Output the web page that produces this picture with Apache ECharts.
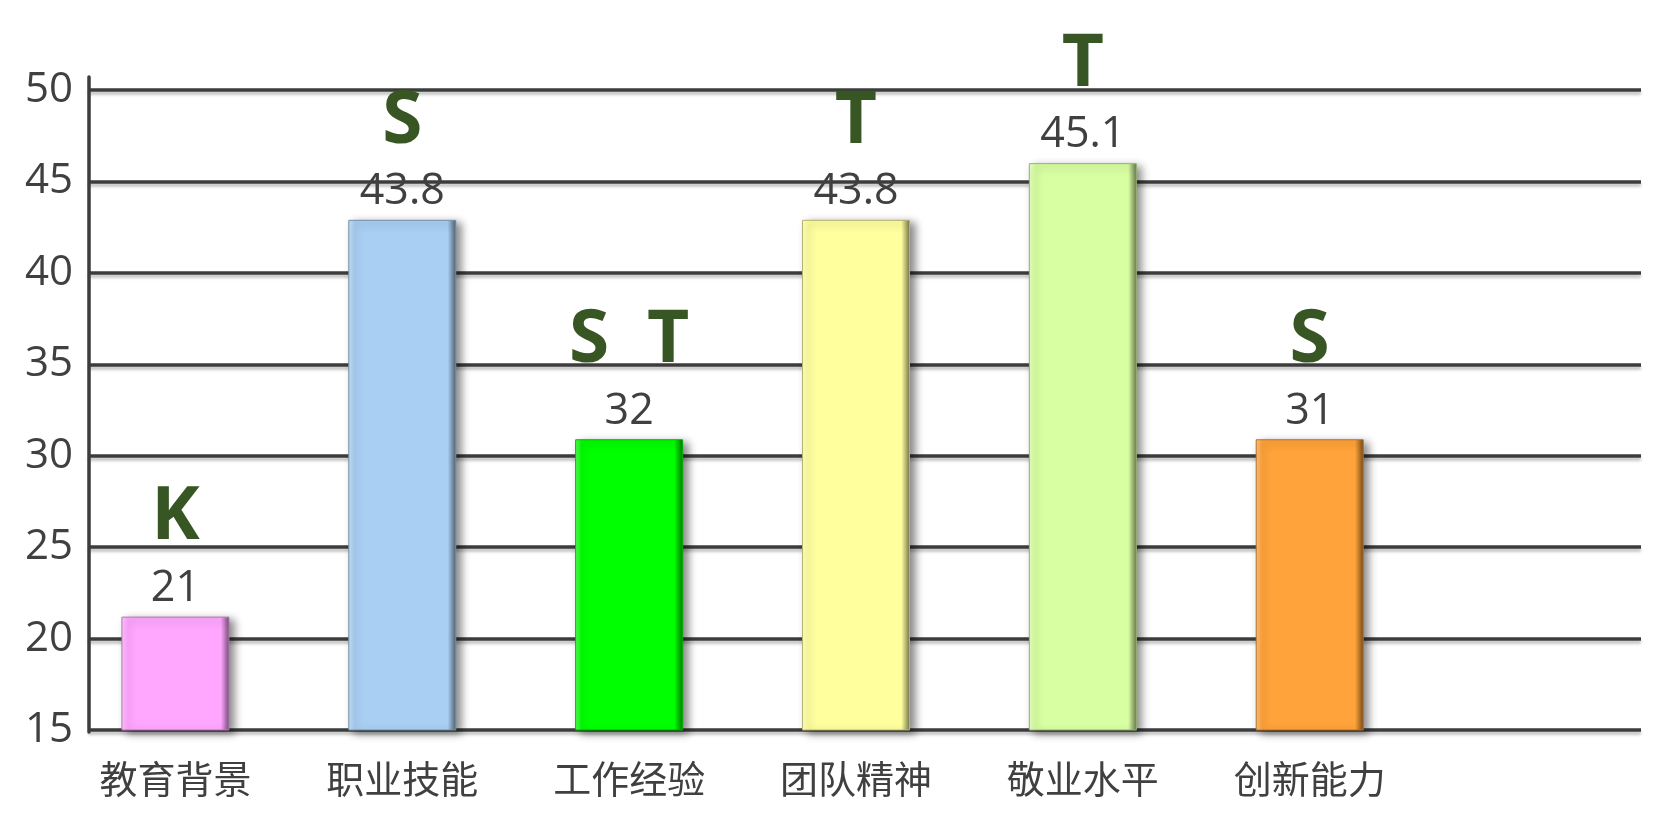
<!DOCTYPE html>
<html><head><meta charset="utf-8">
<script src="https://cdn.jsdelivr.net/npm/echarts@6/dist/echarts.min.js"></script>
<style>html,body{margin:0;padding:0;background:#fff}#c{width:1657px;height:826px}</style>
</head><body><div id="c"></div>
<script>
// ---- data ----
const categories = ['教育背景', '职业技能', '工作经验', '团队精神', '敬业水平', '创新能力'];
const barValues = [21.2, 42.9, 30.9, 42.9, 46.0, 30.9];      // bar heights as drawn
const valueLabels = ['21', '43.8', '32', '43.8', '45.1', '31']; // printed labels
const letterLabels = ['K', 'S', 'S  T', 'T', 'T', 'S'];
const yMin = 15, yMax = 50, yStep = 5;

// ---- style ----
const barColors = ['#FFA6FF', '#A9CFF3', '#00FF00', '#FFFF9E', '#D8FFA2', '#FFA33A'];
const FONT = "'Open Sans', 'Noto Sans CJK SC', sans-serif";
const TXT = '#404040';
const LETTER = '#375623';

function hexToRgb(h) { h = h.replace('#', ''); return [0, 2, 4].map(i => parseInt(h.substr(i, 2), 16)); }
function mix(h, t, a) { const c = hexToRgb(h), d = hexToRgb(t); return 'rgb(' + c.map((v, i) => Math.round(v + (d[i] - v) * a)).join(',') + ')'; }

const chart = echarts.init(document.getElementById('c'), null, { renderer: 'canvas' });

const catAxisData = categories.concat(['']);

const option = {
  backgroundColor: '#ffffff',
  animation: false,
  grid: [
    { left: 88, right: 16, top: 90, bottom: 96 },   // gridlines + y labels
    { left: 62, right: 7, top: 90, bottom: 96 },    // bars + categories
    { left: 89, right: 16, top: 77, bottom: 94 }    // y axis line
  ],
  xAxis: [
    { gridIndex: 0, type: 'category', data: catAxisData, show: false },
    {
      gridIndex: 1, type: 'category', data: catAxisData,
      axisLine: { show: false }, axisTick: { show: false },
      axisLabel: { color: TXT, fontSize: 38, fontFamily: FONT, margin: 33, interval: 0 }
    },
    { gridIndex: 2, type: 'category', data: catAxisData, show: false }
  ],
  yAxis: [
    {
      gridIndex: 0, type: 'value', min: yMin, max: yMax, interval: yStep,
      axisLine: { show: false }, axisTick: { show: false },
      axisLabel: { color: TXT, fontSize: 42, fontFamily: FONT, margin: 15 },
      splitLine: {
        show: true,
        lineStyle: { color: '#3c3c3c', width: 3.5, shadowColor: 'rgba(0,0,0,0.25)', shadowBlur: 3, shadowOffsetY: 3 }
      }
    },
    {
      gridIndex: 1, type: 'value', min: yMin, max: yMax, interval: yStep, show: false
    },
    {
      gridIndex: 2, type: 'value', min: 0, max: 1,
      axisLine: { show: true, lineStyle: { color: '#3c3c3c', width: 3.5 } },
      axisTick: { show: false }, axisLabel: { show: false }, splitLine: { show: false }
    }
  ],
  series: [
    {
      type: 'bar', xAxisIndex: 1, yAxisIndex: 1, barWidth: 108,
      data: barValues.map((v, i) => ({
        value: v,
        itemStyle: {
          color: new echarts.graphic.LinearGradient(0, 0, 1, 0, [
            { offset: 0, color: mix(barColors[i], '#ffffff', 0.35) },
            { offset: 0.06, color: barColors[i] },
            { offset: 0.92, color: barColors[i] },
            { offset: 1, color: mix(barColors[i], '#000000', 0.55) }
          ]),
          borderColor: mix(barColors[i], '#000000', 0.3),
          borderWidth: 1,
          shadowColor: 'rgba(0,0,0,0.45)', shadowBlur: 8, shadowOffsetX: 5, shadowOffsetY: 3
        }
      })),
      label: {
        show: true, position: 'top', distance: 3,
        formatter: p => '{l|' + letterLabels[p.dataIndex] + '}\n{v|' + valueLabels[p.dataIndex] + '}',
        rich: {
          l: { fontSize: 73, fontWeight: 'bold', color: LETTER, fontFamily: FONT, lineHeight: 90, align: 'center' },
          v: { fontSize: 43, color: TXT, fontFamily: FONT, lineHeight: 50, align: 'center' }
        }
      }
    }
  ]
};
chart.setOption(option);
</script></body></html>
